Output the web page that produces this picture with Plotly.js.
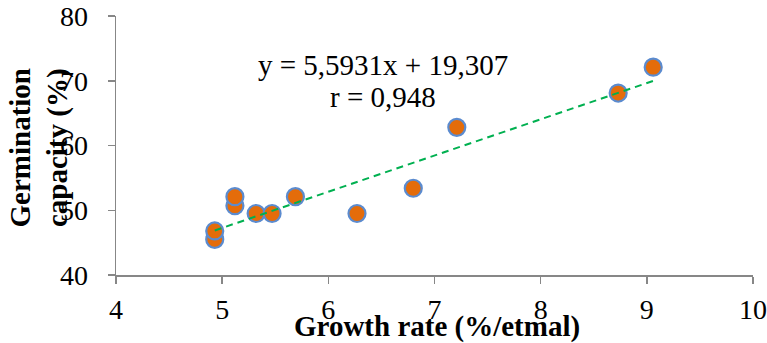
<!DOCTYPE html>
<html>
<head>
<meta charset="utf-8">
<script src="https://cdn.plot.ly/plotly-3.0.1.min.js"></script>
<style>
  html, body { margin: 0; padding: 0; background: #fff; }
  #chart { width: 767px; height: 343px; }
</style>
</head>
<body>
<div id="chart"></div>
<script>
// Growth rate vs germination capacity, with linear trendline
const growthRate  = [4.93, 4.93, 5.12, 5.12, 5.32, 5.47, 5.69, 6.27, 6.80, 7.21, 8.73, 9.06];
const germination = [45.5, 46.8, 50.7, 52.1, 49.5, 49.5, 52.1, 49.5, 53.4, 62.8, 68.1, 72.1];

// Regression coefficients printed on the chart
const slope = 5.5931;
const intercept = 19.307;
const corr = 0.948;

const xTicks = [4, 5, 6, 7, 8, 9, 10];
const yTicks = [40, 50, 60, 70, 80];

const fmt = (v, d) => v.toFixed(d).replace('.', ',');

const xMin = Math.min(...growthRate);
const xMax = Math.max(...growthRate);
const trendX = [xMin, xMax];
const trendY = trendX.map(x => slope * x + intercept);

const FONT = '"Liberation Serif", "Times New Roman", serif';
const AXIS = '#878787';

const points = {
  x: growthRate,
  y: germination,
  type: 'scatter',
  mode: 'markers',
  marker: { size: 17, color: '#E46C0A', line: { color: '#5B8BCF', width: 2.2 } },
  hoverinfo: 'x+y',
  showlegend: false
};

const trend = {
  x: trendX,
  y: trendY,
  type: 'scatter',
  mode: 'lines',
  line: { color: '#00B050', width: 2, dash: '7px,5px' },
  hoverinfo: 'skip',
  showlegend: false
};

const layout = {
  width: 767,
  height: 343,
  margin: { l: 116, r: 14, t: 16, b: 68, pad: 0 },
  paper_bgcolor: '#fff',
  plot_bgcolor: '#fff',
  font: { family: FONT, color: '#000' },
  xaxis: {
    range: [4, 10],
    tickvals: xTicks,
    ticktext: xTicks.map(String),
    ticks: 'outside',
    ticklen: 7,
    tickwidth: 1.5,
    tickcolor: AXIS,
    showline: true,
    linecolor: AXIS,
    linewidth: 1.5,
    showgrid: false,
    zeroline: false,
    tickfont: { family: FONT, size: 28, color: '#000' },
    ticklabelstandoff: 2,
    automargin: false
  },
  yaxis: {
    range: [40, 80],
    tickvals: yTicks,
    ticktext: yTicks.map(String),
    ticks: 'outside',
    ticklen: 7,
    tickwidth: 1.5,
    tickcolor: AXIS,
    showline: true,
    linecolor: AXIS,
    linewidth: 1.5,
    showgrid: false,
    zeroline: false,
    tickfont: { family: FONT, size: 28, color: '#000' },
    ticklabelstandoff: 14,
    automargin: false
  },
  annotations: [
    {
      text: 'y = ' + fmt(slope, 4) + 'x + ' + fmt(intercept, 3),
      xref: 'paper', yref: 'paper',
      x: 0.419, y: 0.81,
      xanchor: 'center', yanchor: 'middle',
      showarrow: false,
      font: { family: FONT, size: 29, color: '#000' }
    },
    {
      text: 'r = ' + fmt(corr, 3),
      xref: 'paper', yref: 'paper',
      x: 0.419, y: 0.687,
      xanchor: 'center', yanchor: 'middle',
      showarrow: false,
      font: { family: FONT, size: 29, color: '#000' }
    },
    {
      text: '<b>Growth rate (%/etmal)</b>',
      xref: 'paper', yref: 'paper',
      x: 0.5, y: 0, xshift: 2, yshift: -51,
      xanchor: 'center', yanchor: 'middle',
      showarrow: false,
      font: { family: FONT, size: 29, color: '#000' }
    },
    {
      text: '<b>Germination<br>capacity (%)</b>',
      xref: 'paper', yref: 'paper',
      x: 0, y: 0.5, xshift: -77, yshift: -2,
      xanchor: 'center', yanchor: 'middle',
      textangle: -90,
      showarrow: false,
      font: { family: FONT, size: 29, color: '#000' }
    }
  ]
};

Plotly.newPlot('chart', [points, trend], layout, { staticPlot: true, displayModeBar: false });
</script>
</body>
</html>
